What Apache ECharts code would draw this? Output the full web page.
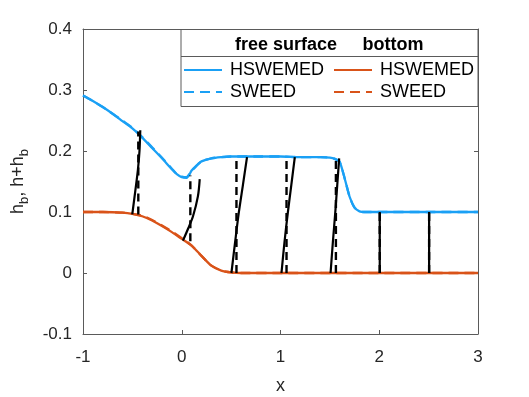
<!DOCTYPE html>
<html>
<head>
<meta charset="utf-8">
<script src="https://cdn.jsdelivr.net/npm/echarts@6/dist/echarts.min.js"></script>
<style>
html, body { margin: 0; padding: 0; background: #fff; }
#main { width: 529px; height: 397px; }
</style>
</head>
<body>
<div id="main"></div>
<script>
// free surface h+h_b
const surfX = [-1, -0.9, -0.8, -0.7, -0.6, -0.5, -0.4, -0.3, -0.2, -0.1, -0.05, 0, 0.05, 0.08, 0.1, 0.15, 0.2, 0.3, 0.4, 0.5, 0.8, 1.0, 1.2, 1.4, 1.5, 1.55, 1.6, 1.65, 1.7, 1.75, 1.8, 1.85, 2, 2.5, 3];
const surfHSWEMED = [0.291, 0.282, 0.272, 0.261, 0.249, 0.237, 0.222, 0.205, 0.188, 0.170, 0.162, 0.157, 0.156, 0.162, 0.168, 0.176, 0.183, 0.188, 0.190, 0.191, 0.191, 0.191, 0.190, 0.190, 0.189, 0.187, 0.182, 0.155, 0.125, 0.107, 0.101, 0.100, 0.100, 0.100, 0.100];
const surfSWEED = [0.291, 0.282, 0.272, 0.261, 0.250, 0.238, 0.223, 0.206, 0.189, 0.171, 0.162, 0.158, 0.157, 0.163, 0.167, 0.176, 0.183, 0.188, 0.190, 0.191, 0.191, 0.191, 0.190, 0.190, 0.189, 0.187, 0.182, 0.155, 0.125, 0.107, 0.101, 0.100, 0.100, 0.100, 0.100];
// bottom h_b
const botX = [-1, -0.8, -0.6, -0.5, -0.4, -0.3, -0.2, -0.1, 0, 0.1, 0.2, 0.3, 0.4, 0.5, 0.6, 1, 2, 3];
const botHSWEMED = [0.100, 0.100, 0.099, 0.097, 0.093, 0.086, 0.077, 0.067, 0.056, 0.045, 0.028, 0.012, 0.004, 0.001, 0.000, 0, 0, 0];
const botSWEED = [0.100, 0.100, 0.099, 0.097, 0.094, 0.087, 0.078, 0.068, 0.057, 0.045, 0.028, 0.012, 0.004, 0.001, 0.000, 0, 0, 0];
// characteristic curves (solid: HSWEMED, dashed: SWEED)
const charSolid = [
  [[-0.501, 0.096], [-0.47, 0.135], [-0.444, 0.169], [-0.428, 0.2], [-0.42, 0.234]],
  [[0.012, 0.053], [0.065, 0.073], [0.114, 0.093], [0.164, 0.126], [0.182, 0.154]],
  [[0.503, 0.0], [0.54, 0.05], [0.577, 0.098], [0.62, 0.145], [0.661, 0.19]],
  [[1.010, 0.0], [1.04, 0.05], [1.075, 0.1], [1.11, 0.145], [1.145, 0.19]],
  [[1.507, 0.0], [1.53, 0.05], [1.555, 0.1], [1.575, 0.145], [1.594, 0.188]],
  [[2.005, 0.0], [2.005, 0.1]],
  [[2.505, 0.0], [2.505, 0.1]]
];
const charDashedX = [-0.44, 0.087, 0.554, 1.061, 1.561, 2.005, 2.505];
const charDashedLow = [0.096, 0.052, 0, 0, 0, 0, 0];
const charDashedHigh = [0.232, 0.16, 0.19, 0.19, 0.19, 0.1, 0.1];

const xTickLabels = ['-1', '0', '1', '2', '3'];
const yTickLabels = ['-0.1', '0', '0.1', '0.2', '0.3', '0.4'];

const blue = '#1aa0f5';
const orange = '#d95319';
const font = 'Liberation Sans, Arial, Helvetica, sans-serif';
const axisCol = '#5a5a5a';
const txtCol = '#262626';

const zip = (xs, ys) => xs.map((x, i) => [x, ys[i]]);

const series = [];
series.push({ name: 'fs_SWEED', type: 'line', data: zip(surfX, surfSWEED), symbol: 'none', smooth: 0.2,
  lineStyle: { color: blue, width: 2.3, type: [10, 6] }, itemStyle: { color: blue }, z: 2 });
series.push({ name: 'b_SWEED', type: 'line', data: zip(botX, botSWEED), symbol: 'none', smooth: 0.2,
  lineStyle: { color: orange, width: 2.3, type: [10, 6] }, itemStyle: { color: orange }, z: 2 });
series.push({ name: 'fs_HSWEMED', type: 'line', data: zip(surfX, surfHSWEMED), symbol: 'none', smooth: 0.2,
  lineStyle: { color: blue, width: 2.3 }, itemStyle: { color: blue }, z: 3 });
series.push({ name: 'b_HSWEMED', type: 'line', data: zip(botX, botHSWEMED), symbol: 'none', smooth: 0.2,
  lineStyle: { color: orange, width: 2.3 }, itemStyle: { color: orange }, z: 3 });
charSolid.forEach((c, i) => {
  series.push({ name: 'cs' + i, type: 'line', data: c, symbol: 'none', smooth: 0.3,
    lineStyle: { color: '#000', width: 2.2 }, z: 4, silent: true });
});
charDashedX.forEach((x, i) => {
  series.push({ name: 'cd' + i, type: 'line', data: [[x, charDashedLow[i]], [x, charDashedHigh[i]]], symbol: 'none',
    lineStyle: { color: '#000', width: 2.4, type: [8, 5] }, z: 4, silent: true });
});

const legendCommon = {
  orient: 'vertical', padding: 0, itemGap: 4, itemWidth: 38, itemHeight: 14, z: 6,
  itemStyle: { opacity: 0 },
  textStyle: { fontFamily: font, fontSize: 18, color: '#000', lineHeight: 18, padding: [0, 0, 0, 3] },
  formatter: n => n.split('_')[1], selectedMode: false
};

const frameAxis = {
  axisLine: { show: true, onZero: false, lineStyle: { color: axisCol, width: 1 } },
  axisTick: { show: true, inside: true, length: 4, lineStyle: { color: axisCol } },
  splitLine: { show: false }
};

const option = {
  animation: false,
  grid: { left: 83, right: 51, top: 29, bottom: 63, outerBoundsMode: 'none', containLabel: false },
  xAxis: [
    Object.assign({ type: 'value', min: -1, max: 3, interval: 1, position: 'bottom',
      name: 'x', nameLocation: 'middle', nameGap: 43,
      nameTextStyle: { fontFamily: font, fontSize: 18, color: txtCol },
      axisLabel: { fontFamily: font, fontSize: 17, color: txtCol, margin: 15,
        formatter: v => xTickLabels[Math.round(v + 1)] } }, frameAxis),
    Object.assign({ type: 'value', min: -1, max: 3, interval: 1, position: 'top',
      axisLabel: { show: false } }, frameAxis)
  ],
  yAxis: [
    Object.assign({ type: 'value', min: -0.1, max: 0.4, interval: 0.1, position: 'left',
      name: '{n|h}{s|b}{n|, h+h}{s|b}', nameLocation: 'middle', nameGap: 52, nameRotate: 90,
      nameTextStyle: { fontFamily: font, color: txtCol,
        rich: {
          n: { fontFamily: font, fontSize: 18, color: txtCol, lineHeight: 26, verticalAlign: 'middle' },
          s: { fontFamily: font, fontSize: 13, color: txtCol, lineHeight: 14, verticalAlign: 'bottom' }
        } },
      axisLabel: { fontFamily: font, fontSize: 17, color: txtCol, margin: 11,
        formatter: v => yTickLabels[Math.round((v + 0.1) * 10)] } }, frameAxis),
    Object.assign({ type: 'value', min: -0.1, max: 0.4, interval: 0.1, position: 'right',
      axisLabel: { show: false } }, frameAxis)
  ],
  legend: [
    Object.assign({ left: 183, top: 61, data: ['fs_HSWEMED', 'fs_SWEED'] }, legendCommon),
    Object.assign({ left: 333, top: 61, data: ['b_HSWEMED', 'b_SWEED'] }, legendCommon)
  ],
  graphic: [
    { type: 'rect', z: 5, shape: { x: 181, y: 29.5, width: 297, height: 77 },
      style: { fill: '#fff', stroke: axisCol, lineWidth: 1 } },
    { type: 'line', z: 5, shape: { x1: 181, y1: 56.5, x2: 478, y2: 56.5 },
      style: { stroke: axisCol, lineWidth: 1 } },
    { type: 'text', z: 6, x: 286, y: 45,
      style: { text: 'free surface', font: 'bold 18px ' + font, fill: '#000', textAlign: 'center', textVerticalAlign: 'middle' } },
    { type: 'text', z: 6, x: 393, y: 45,
      style: { text: 'bottom', font: 'bold 18px ' + font, fill: '#000', textAlign: 'center', textVerticalAlign: 'middle' } }
  ],
  series: series
};

const myChart = echarts.init(document.getElementById('main'));
myChart.setOption(option);
</script>
</body>
</html>
